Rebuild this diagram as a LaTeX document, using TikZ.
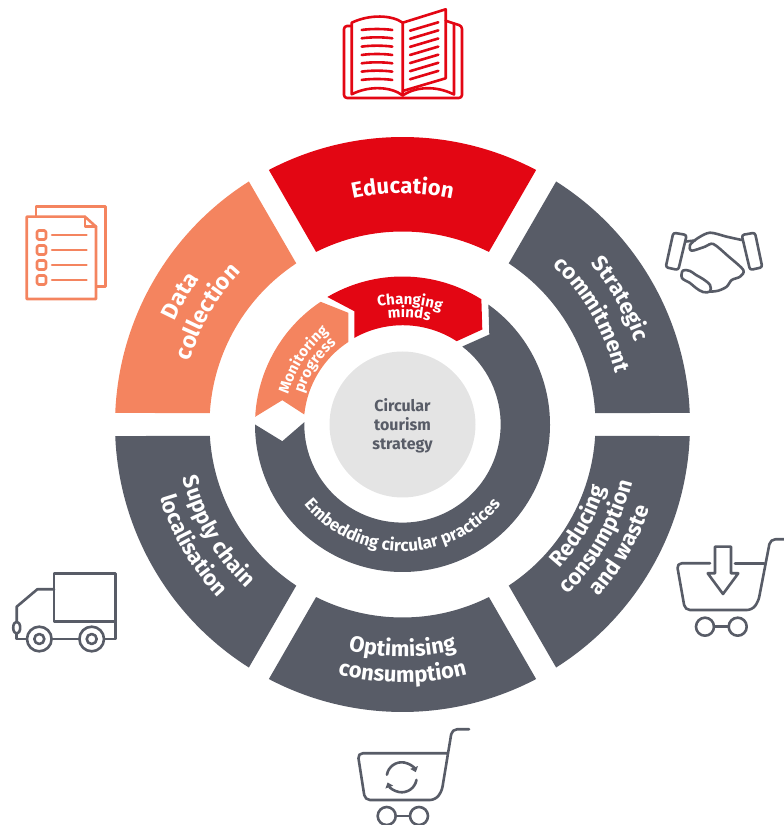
\documentclass[tikz,border=0pt]{standalone}
\usepackage{fontspec}
\setmainfont{Fira Sans}
\usetikzlibrary{decorations.text,arrows.meta}

\definecolor{wheelred}{HTML}{E30613}
\definecolor{wheelsalmon}{HTML}{F4845F}
\definecolor{wheelgray}{HTML}{585C67}
\definecolor{wheelhub}{HTML}{E4E4E4}

\tikzset{
    redicon/.style={draw=wheelred,line width=2.6pt,line cap=round,line join=round},
    salmonicon/.style={draw=wheelsalmon,line width=2.6pt,line cap=round,line join=round},
    grayicon/.style={draw=wheelgray,line width=2.6pt,line cap=round,line join=round},
}

% one block of the outer ring
\newcommand{\RingSeg}[3]{%
    \fill[#3] (#1+2.3:287.5) arc[start angle=#1+2.3,end angle=#2-2.3,radius=287.5]
        -- (#2-3.4:193) arc[start angle=#2-3.4,end angle=#1+3.4,radius=193] -- cycle;}
% text on a circle, letters pointing outwards / inwards
\newcommand{\LabelOut}[4]{%
    \path[decorate,decoration={text along path,text align=center,
        text={|\fontsize{#3}{#3}\selectfont\bfseries\color{white}|#4}}]
        (#1+70:#2) arc[start angle=#1+70,end angle=#1-70,radius=#2];}
\newcommand{\LabelIn}[4]{%
    \path[decorate,decoration={text along path,text align=center,
        text={|\fontsize{#3}{#3}\selectfont\bfseries\color{white}|#4}}]
        (#1-70:#2) arc[start angle=#1-70,end angle=#1+70,radius=#2];}

\begin{document}
\begin{tikzpicture}[x=1pt,y=1pt]
    \useasboundingbox (0,0) rectangle (784,825);

    % wheel
    \begin{scope}[shift={(402.5,400.5)}]
        \RingSeg{60}{120}{wheelred}
        \RingSeg{120}{180}{wheelsalmon}
        \RingSeg{0}{60}{wheelgray}
        \RingSeg{180}{240}{wheelgray}
        \RingSeg{240}{300}{wheelgray}
        \RingSeg{300}{360}{wheelgray}

        \LabelOut{90}{231}{22}{Education}
        \LabelOut{150}{250}{23}{Data}
        \LabelOut{150}{222}{23}{collection}
        \LabelOut{30}{247}{22}{Strategic}
        \LabelOut{30}{219}{22}{commitment}
        \LabelIn{210}{226}{22}{Supply chain}
        \LabelIn{210}{253}{22}{localisation}
        \LabelIn{270}{232}{22}{Optimising}
        \LabelIn{270}{258}{22}{consumption}
        \LabelIn{330}{213}{22}{Reducing}
        \LabelIn{330}{237}{22}{consumption}
        \LabelIn{330}{261}{22}{and waste}

        % inner ring
        \fill[wheelgray] (54.4:147.5) arc[start angle=54.4,end angle=-180,radius=147.5]
            -- (-120.2,-16.7) -- (-98.2,2.3)
            arc[start angle=-181.3,end angle=52.5,radius=98.2]
            -- (86.8,90) -- cycle;
        \fill[wheelred] (120.5:148) arc[start angle=120.5,end angle=57.8,radius=148]
            -- (79.8,95) -- (54.2,83.3)
            arc[start angle=57,end angle=119.3,radius=99]
            -- (-48.2,113.3) -- cycle;
        \fill[wheelsalmon] (123.7:147.5) arc[start angle=123.7,end angle=177,radius=147.5]
            -- (-120.2,24.3) -- (-98.2,10)
            arc[start angle=174.2,end angle=123.2,radius=98.7]
            -- (-54.2,111.7) -- cycle;

        \LabelOut{86.5}{120}{15}{Changing}
        \LabelOut{86.5}{107}{15}{minds}
        \LabelOut{147}{118}{15}{Monitoring}
        \LabelOut{146}{104}{15}{progress}
        \LabelIn{270}{127}{17}{Embedding circular practices}

        \node[circle,fill=wheelhub,minimum size=146pt,inner sep=0pt] (hub) at (0,0) {};
        \node[text=wheelgray,align=center,font=\fontsize{16}{19}\selectfont\bfseries] (hublabel) at (0,-1)
            {Circular\\tourism\\strategy};
    \end{scope}

    % icons, in reference pixels
    \begin{scope}[shift={(0,825)},yscale=-1]
        % book
        \draw[redicon,rounded corners=3pt] (351,26) -- (344,26) -- (344,98) -- (462,98) -- (462,26) -- (454,23.5);
        \draw[redicon] (351.7,94.3) -- (351.7,22.7) .. controls (370,14) and (392,15) .. (402.7,22.7)
            -- (402.7,95.5) .. controls (392,87) and (370,85) .. (351.7,94.3);
        \draw[redicon] (402.7,22.7) -- (445.7,9.3) -- (445.7,78.3) -- (402.7,91);
        \draw[redicon] (402.7,95.5) .. controls (415,87) and (435,85) .. (454,94.5) -- (454,23.5) -- (445.7,20.7);
        \foreach \i in {0,...,6} {
            \draw[redicon] (361.7,30+8.33*\i) .. controls (370,28.7+8.33*\i) and (384,28.7+8.33*\i) .. (392.3,30+8.33*\i);
            \draw[redicon] (410,30.7+8.1*\i) -- (438.3,22.3+8.1*\i);
        }

        % document
        \draw[salmonicon] (36,216.7) -- (36,206.7) -- (105.7,206.7) -- (105.7,286.7) -- (96.7,286.7);
        \draw[salmonicon] (26.7,216.7) -- (85,216.7) -- (96,226.7) -- (96,299) -- (26.7,299) -- cycle;
        \draw[salmonicon] (85,216.7) -- (85,226.7) -- (96,226.7);
        \foreach \y in {235,250,265,280} {
            \draw[salmonicon,rounded corners=1.5pt] (37,\y-4.5) rectangle (46,\y+4.5);
            \draw[salmonicon] (52,\y) -- (86.5,\y);
        }

        % handshake
        \draw[grayicon,rounded corners=2.5pt] (673.3,232.7) -- (686.7,235) -- (678.3,270) -- (665.7,267.3) -- cycle;
        \draw[grayicon,rounded corners=2.5pt] (741.7,235) -- (755,232.7) -- (762.3,267.3) -- (750,270) -- cycle;
        \draw[grayicon] plot[smooth,tension=0.5] coordinates {(741.7,240) (726.7,236.7) (710,232.7) (698,238) (690,245) (691.7,250.7) (705,246.7) (713.3,244) (728,256) (743.3,270) (740,276.7) (731.7,280) (726.7,286.7) (718.3,290.7) (710,291.7)};
        \draw[grayicon] (686,241.5) -- (695,240.5);
        \draw[grayicon] plot[smooth cycle,tension=0.6] coordinates {(683,270.5) (690,271) (696,275) (703,279) (710,285) (710,291.5) (703,292) (696,288) (690,283) (682,278)};

        % basket with arrow
        \draw[grayicon,rounded corners=5pt] (710,563.3) -- (676.7,563.3) -- (685,610) -- (752,610) -- (758.3,601.7) -- (770.3,539.3) -- (784,539.3);
        \draw[grayicon] (735,563.3) -- (764.3,563.3);
        \draw[grayicon] (715,546.7) -- (731,546.7) -- (731,573.3) -- (738.3,573.3) -- (723,594) -- (707.7,573.3) -- (715,573.3) -- cycle;
        \draw[grayicon] (705,626.7) circle[radius=9];
        \draw[grayicon] (737.7,626.7) circle[radius=9];
        \draw[grayicon] (714,626.7) -- (728.7,626.7);

        % basket with cycle
        \draw[grayicon,rounded corners=5pt] (446.7,753.3) -- (357.7,753.3) -- (365,800) -- (435,800) -- (441.7,791.7) -- (452,729.3) -- (469,729.3);
        \draw[grayicon] (386.7,816) circle[radius=9];
        \draw[grayicon] (419,816) circle[radius=9];
        \draw[grayicon] (395.7,816) -- (410,816);
        \draw[grayicon,-{Triangle[length=5pt,width=8pt]}] (401.7,777.3) ++(190:15) arc[start angle=190,end angle=340,radius=15];
        \draw[grayicon,-{Triangle[length=5pt,width=8pt]}] (401.7,777.3) ++(10:15) arc[start angle=10,end angle=160,radius=15];

        % truck
        \draw[grayicon] (54,573.3) -- (115.7,573.3) -- (115.7,621.7) -- (54,621.7) -- cycle;
        \draw[grayicon] (115.7,621.7) -- (115.7,639) -- (104.3,639);
        \draw[grayicon] (79,639) -- (52,639);
        \draw[grayicon] (27,639) -- (16.7,639) -- (16.7,633.7);
        \draw[grayicon] (16.7,627.7) ellipse[x radius=3.5,y radius=6];
        \draw[grayicon] (16.7,621.7) -- (16.7,606.7) -- (37.3,589.3) -- (54,589.3);
        \foreach \x in {39.3,91.7} {
            \draw[grayicon] (\x,639) circle[radius=12.3];
            \draw[grayicon] (\x,639) circle[radius=5];
        }
    \end{scope}
\end{tikzpicture}
\end{document}
